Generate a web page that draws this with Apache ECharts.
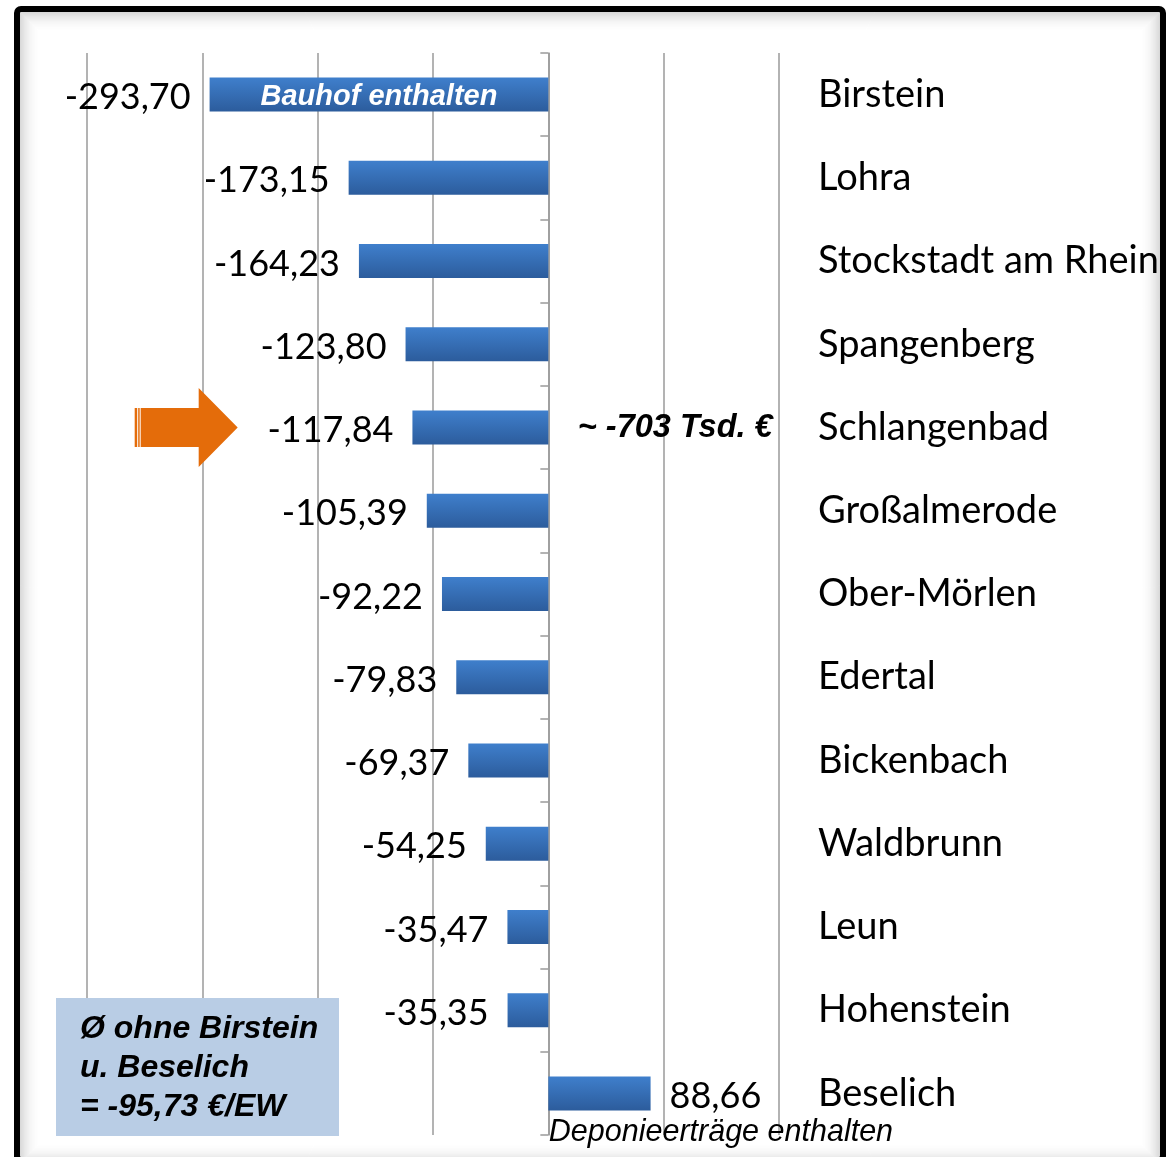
<!DOCTYPE html>
<html>
<head>
<meta charset="utf-8">
<script src="https://cdn.jsdelivr.net/npm/echarts@6/dist/echarts.min.js"></script>
<style>
html,body{margin:0;padding:0;background:#fff;}
#chart{width:1173px;height:1157px;}
</style>
</head>
<body>
<div id="chart"></div>
<script>
const categories = ['Birstein','Lohra','Stockstadt am Rhein','Spangenberg','Schlangenbad','Großalmerode','Ober-Mörlen','Edertal','Bickenbach','Waldbrunn','Leun','Hohenstein','Beselich'];
const values = [-293.70,-173.15,-164.23,-123.80,-117.84,-105.39,-92.22,-79.83,-69.37,-54.25,-35.47,-35.35,88.66];
const xTicks = [-400,-300,-200,-100,0,100,200];
const noteBauhof = 'Bauhof enthalten';
const noteTotal = '~ -703 Tsd. €';
const noteDeponie = 'Deponieerträge enthalten';
const averageLines = ['Ø ohne Birstein','u. Beselich','= -95,73 €/EW'];
const highlightCategory = 'Schlangenbad';

const calibri = 'Lato, "Noto Sans", sans-serif';
const arial = '"Liberation Sans", Arial, sans-serif';
const gridColor = '#9a9a9a';

const fmt = v => v.toFixed(2).replace('.', ',');

const shadowRects = [];
for (let i = 0; i < 20; i++) {
  const a = 0.15 * Math.pow(1 - i / 20, 2);
  shadowRects.push({
    type: 'rect', silent: true, z: 0,
    shape: { x: 20.5 + i, y: 12.5 + i, width: 1139 - 2 * i, height: 1150 - 2 * i },
    style: { fill: 'none', stroke: 'rgba(0,0,0,' + a.toFixed(3) + ')', lineWidth: 1 }
  });
}

const chart = echarts.init(document.getElementById('chart'), null, { renderer: 'canvas' });
chart.setOption({
  animation: false,
  backgroundColor: '#fff',
  grid: { left: 87, right: 394, top: 53, bottom: 22, containLabel: false, outerBoundsMode: 'none' },
  xAxis: {
    type: 'value', min: xTicks[0], max: xTicks[xTicks.length - 1], interval: 100,
    axisLabel: { show: false }, axisLine: { show: false }, axisTick: { show: false },
    splitLine: { show: true, lineStyle: { color: gridColor, width: 1.5 } }
  },
  yAxis: [
    {
      type: 'category', data: categories, inverse: true, position: 'left',
      axisLine: { show: true, onZero: true, lineStyle: { color: gridColor, width: 1.5 } },
      axisTick: { show: true, length: 8, lineStyle: { color: gridColor, width: 1.5 } },
      axisLabel: { show: false }, splitLine: { show: false }
    },
    {
      type: 'category', data: categories, inverse: true, position: 'right',
      axisLine: { show: false }, axisTick: { show: false }, splitLine: { show: false },
      axisLabel: { show: true, margin: 39, color: '#000', fontFamily: calibri, fontSize: 38,
        padding: [3, 0, 0, 0] }
    }
  ],
  series: [{
    type: 'bar', yAxisIndex: 0, data: values, barWidth: 34,
    itemStyle: {
      color: new echarts.graphic.LinearGradient(0, 0, 0, 1, [
        { offset: 0, color: '#3f7fcc' }, { offset: 1, color: '#2c5c9c' }
      ])
    },
    label: {
      show: true, position: 'outside', distance: 19, offset: [0, 3], color: '#000',
      fontFamily: calibri, fontSize: 36, formatter: p => fmt(p.value)
    },
    markPoint: {
      silent: true,
      data: [
        {
          name: noteBauhof, coord: [values[0] / 2, categories[0]], symbol: 'circle', symbolSize: 1,
          itemStyle: { color: 'rgba(0,0,0,0)' },
          label: { show: true, position: 'inside', offset: [0, 2], formatter: '{b}', color: '#fff',
            fontFamily: arial, fontWeight: 'bold', fontStyle: 'italic', fontSize: 29 }
        },
        {
          name: noteTotal, coord: [0, highlightCategory], symbol: 'circle', symbolSize: 1,
          itemStyle: { color: 'rgba(0,0,0,0)' },
          label: { show: true, position: 'right', distance: 29, formatter: '{b}', color: '#000',
            fontFamily: arial, fontWeight: 'bold', fontStyle: 'italic', fontSize: 32.5 }
        },
        {
          name: noteDeponie, coord: [0, categories[categories.length - 1]], symbol: 'circle', symbolSize: 1,
          itemStyle: { color: 'rgba(0,0,0,0)' },
          label: { show: true, position: 'right', distance: 0, offset: [0, 39], formatter: '{b}', color: '#000',
            fontFamily: arial, fontStyle: 'italic', fontSize: 30.5 }
        },
        {
          name: 'arrow', coord: [-314, highlightCategory],
          symbol: 'path://M0 20 H2.5 V59 H0 Z M3.5 20 H5 V59 H3.5 Z M6 20 H64 V0 L103 39.5 L64 79 V59 H6 Z',
          symbolSize: [103, 79], symbolKeepAspect: false,
          itemStyle: { color: '#e46c0a' },
          label: { show: false }
        }
      ]
    }
  }],
  graphic: shadowRects.concat([
    { type: 'rect', silent: true, z: 50, shape: { x: 56, y: 998, width: 283, height: 138 }, style: { fill: '#b9cde5' } },
    { type: 'text', silent: true, z: 51, style: { x: 80, y: 1010, text: averageLines.join('\n'), fill: '#000',
        fontFamily: arial, fontWeight: 'bold', fontStyle: 'italic', fontSize: 32, lineHeight: 39,
        verticalAlign: 'top', align: 'left' } },
    {
      type: 'rect', silent: true, z: 100,
      shape: { x: 17, y: 9, width: 1146, height: 1151, r: 4 },
      style: { fill: 'none', stroke: '#000', lineWidth: 6 }
    }
  ])
});
</script>
</body>
</html>
